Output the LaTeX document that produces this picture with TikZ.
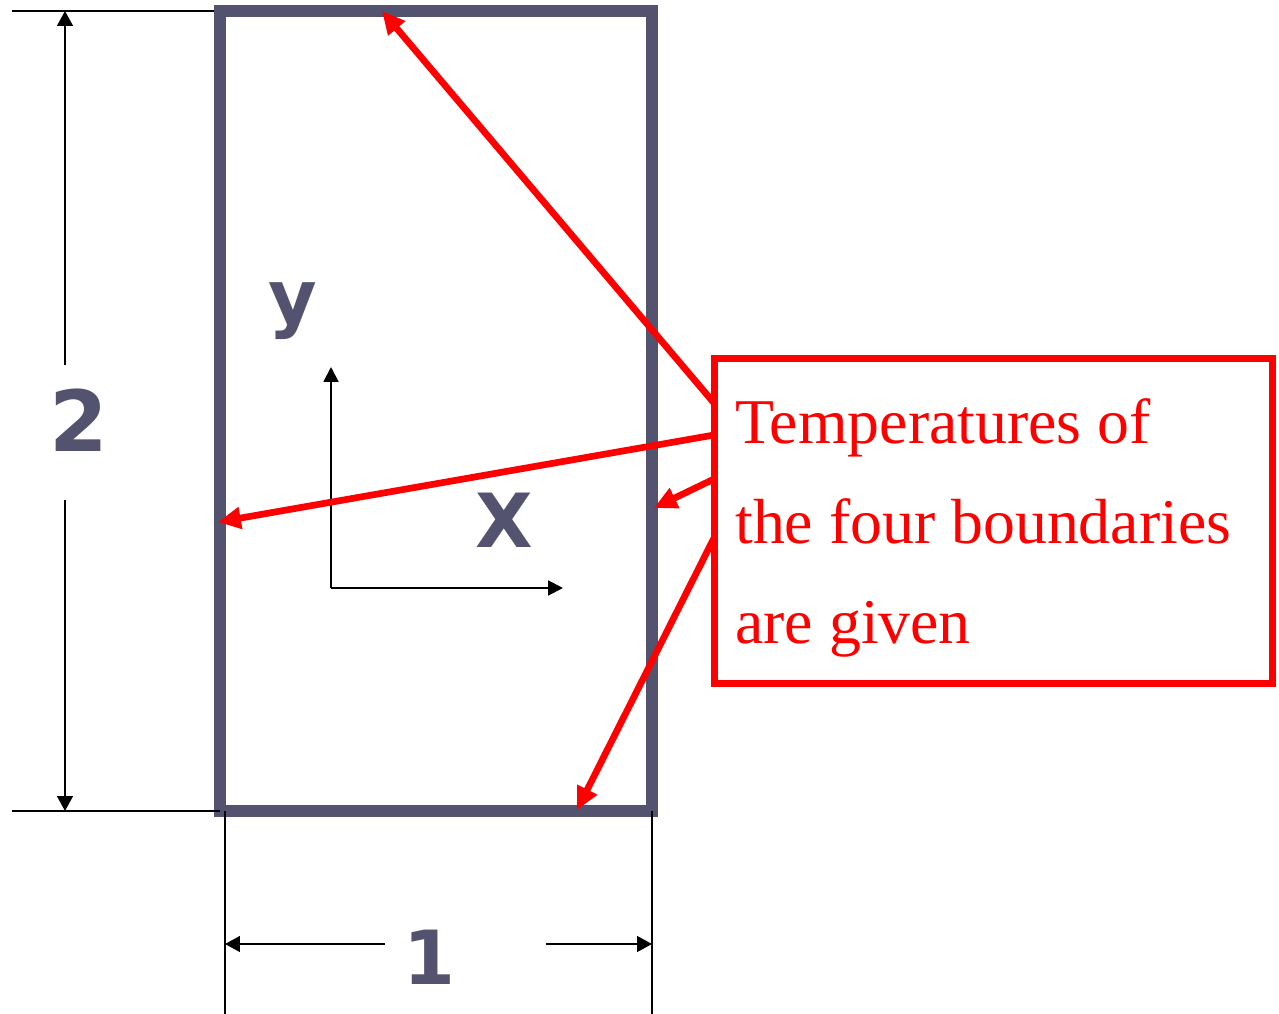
\documentclass[tikz,border=0pt]{standalone}
\usepackage{fontspec}
\usetikzlibrary{arrows.meta,positioning,calc}
\newfontfamily\dimfont{DejaVu Sans}
\newfontfamily\notefont{Liberation Serif}
\definecolor{plategray}{HTML}{53536F}
\definecolor{notered}{HTML}{FF0000}
\tikzset{
  plate/.style={draw=plategray, line width=6.8pt},
  extline/.style={line width=0.9pt, color=black},
  dimarrow/.style={-{Triangle[length=8.5pt,width=9pt]}, line width=1.1pt, color=black},
  axisarrow/.style={-{Triangle[length=8.5pt,width=8.5pt]}, line width=1.1pt, color=black},
  dimlabel/.style={font=\dimfont\bfseries\fontsize{42.5pt}{48pt}\selectfont,
    text=plategray, inner sep=0pt},
  notebox/.style={draw=notered, line width=4pt, minimum width=11.18cm,
    minimum height=6.52cm, inner sep=0pt},
  noteline/.style={font=\notefont\fontsize{36.3pt}{44pt}\selectfont,
    text=notered, anchor=base west, inner sep=0pt},
  pointer/.style={-{Triangle[length=13pt,width=12pt]}, line width=3.8pt, color=notered},
}

\begin{document}
\begin{tikzpicture}[x=0.02cm,y=-0.02cm]
  \useasboundingbox (0,0) rectangle (1279,1014);
  % the plate
  \coordinate (nw) at (220,11);
  \coordinate (se) at (652,811);
  \draw[plate] (nw) rectangle (se);
  % extension lines
  \draw[extline] (12,11) -- (214,11);
  \draw[extline] (12,811) -- (220,811);
  \draw[extline] (225,811) -- (225,1014);
  \draw[extline] (652,811) -- (652,1014);
  % height 2
  \coordinate (htop) at (65,11);
  \coordinate (htopgap) at (65,365);
  \coordinate (hbotgap) at (65,500);
  \coordinate (hbot) at (65,811);
  \draw[dimarrow] (htopgap) -- (htop);
  \draw[dimarrow] (hbotgap) -- (hbot);
  \node[dimlabel, font=\dimfont\bfseries\fontsize{48pt}{54pt}\selectfont] (two) at (78.5,420) {2};
  % width 1
  \coordinate (wleft) at (225,944);
  \coordinate (wleftgap) at (385,944);
  \coordinate (wrightgap) at (546,944);
  \coordinate (wright) at (652,944);
  \draw[dimarrow] (wleftgap) -- (wleft);
  \draw[dimarrow] (wrightgap) -- (wright);
  \node[dimlabel] (one) at (429,957) {1};
  % axes
  \coordinate (origin) at (331,588);
  \coordinate (ytip) at (331,367);
  \coordinate (xtip) at (563,588);
  \draw[axisarrow] (origin) -- (ytip);
  \draw[axisarrow] (origin) -- (xtip);
  \node[dimlabel] (ylab) at (292.5,311) {y};
  \node[dimlabel] (xlab) at (504.5,520.5) {X};
  % note
  \node[notebox] (note) at (993.5,521) {};
  \node[noteline] (lineA) at (735,443) {Temperatures of};
  \node[noteline] (lineB) at (735,543) {the four boundaries};
  \node[noteline] (lineC) at (735,643) {are given};
  \coordinate (fromtop) at (714,403);
  \coordinate (fromleft) at (714,435);
  \coordinate (fromright) at (714,479);
  \coordinate (frombot) at (714,538);
  \coordinate (attop) at (382,11);
  \coordinate (atleft) at (218,522);
  \coordinate (atright) at (654,508);
  \coordinate (atbot) at (577,810);
  \draw[pointer] (fromtop) -- (attop);
  \draw[pointer] (fromleft) -- (atleft);
  \draw[pointer] (fromright) -- (atright);
  \draw[pointer] (frombot) -- (atbot);
\end{tikzpicture}
\end{document}
